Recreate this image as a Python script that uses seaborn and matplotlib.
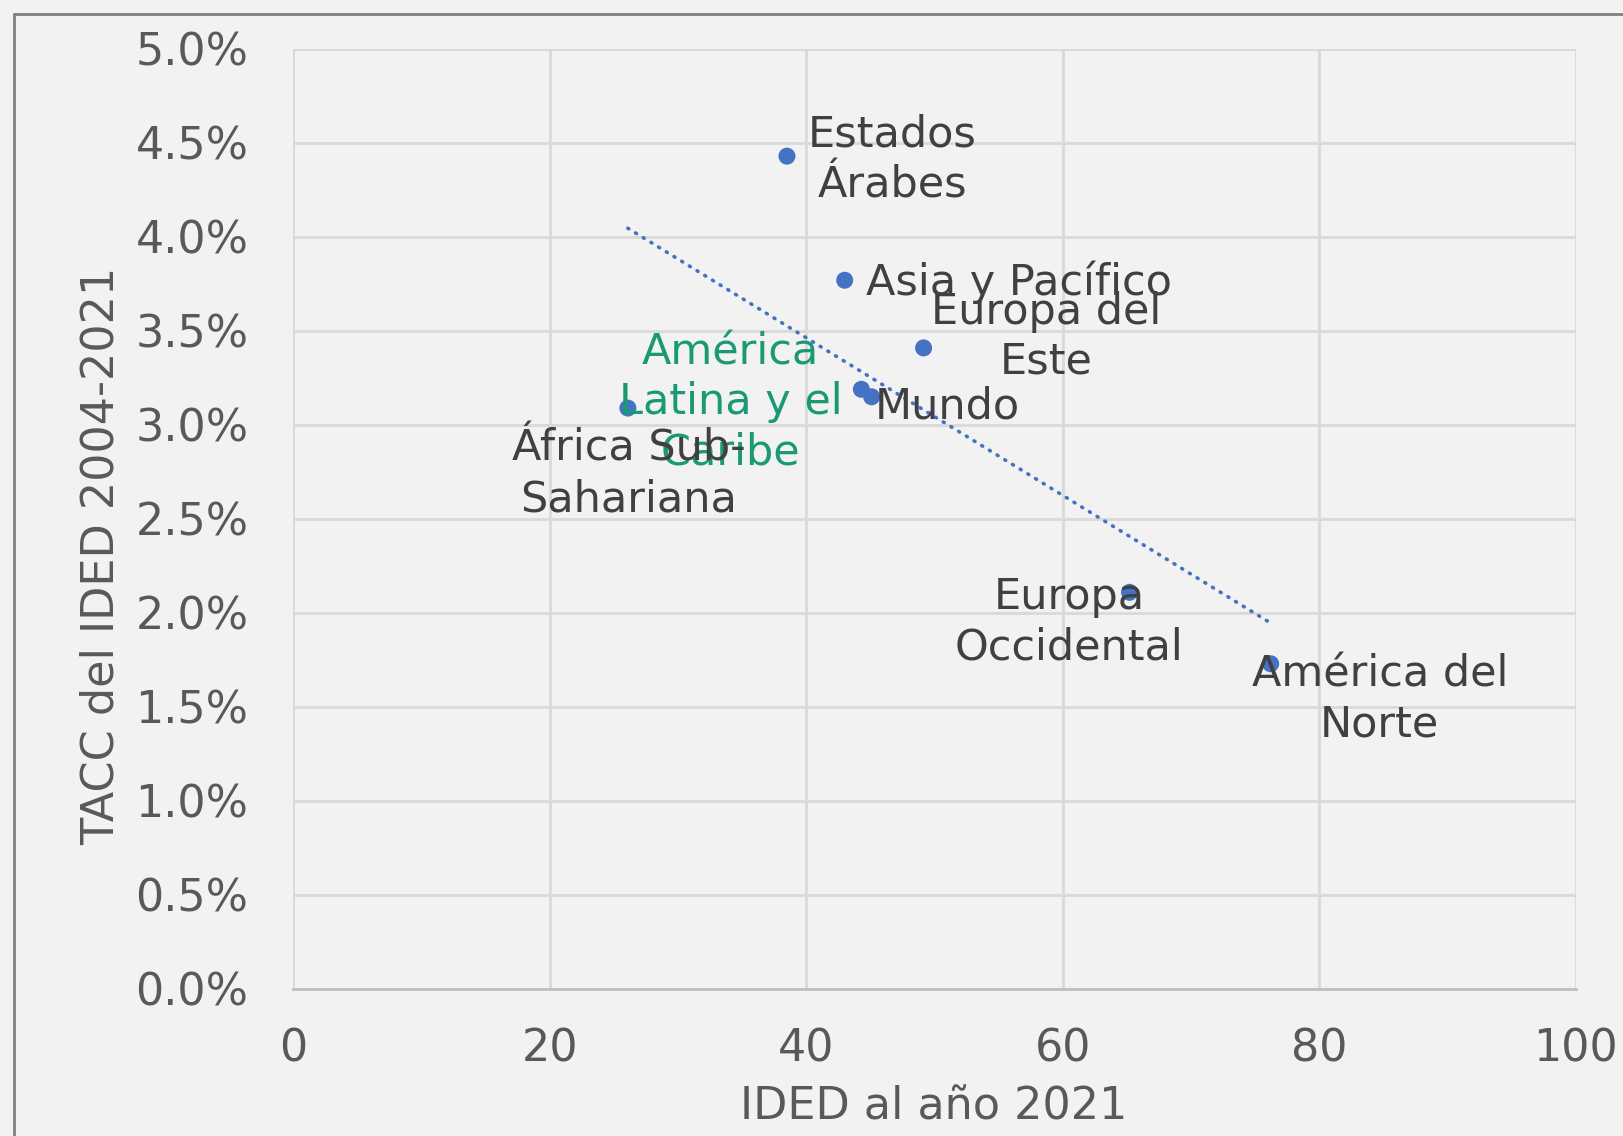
import numpy as np
import pandas as pd
import matplotlib
matplotlib.use("Agg")
import matplotlib.pyplot as plt
from matplotlib.lines import Line2D
from matplotlib.ticker import PercentFormatter
import seaborn as sns

regions = ["Estados\nÁrabes", "Asia y Pacífico", "Europa del\nEste", "América\nLatina y el\nCaribe",
           "Mundo", "África Sub-\nSahariana", "Europa\nOccidental", "América del\nNorte"]
ided_2021 = [38.5, 43.0, 49.15, 44.3, 45.1, 26.1, 65.2, 76.2]
tacc = [4.43, 3.77, 3.41, 3.19, 3.15, 3.09, 2.11, 1.73]

# where each label sits (data coords), tuned by eye
label_pos = [(46.7, 4.41), (56.6, 3.76), (58.7, 3.47), (34.1, 3.12),
             (51.0, 3.10), (26.15, 2.74), (60.5, 1.95), (84.7, 1.54)]
label_color = ["#404040", "#404040", "#404040", "#1a9a74",
               "#404040", "#404040", "#404040", "#404040"]

df = pd.DataFrame({"region": regions, "ided": ided_2021, "tacc": tacc})

sns.set_style("whitegrid")
plt.rcParams["font.family"] = ["DejaVu Sans"]

bg = "#f2f2f2"
fig = plt.figure(figsize=(16.24, 11.36), dpi=100, facecolor=bg)
ax = fig.add_axes([293 / 1624, 1 - 989 / 1136, (1576 - 293) / 1624, (989 - 49) / 1136])
ax.set_facecolor(bg)

sns.scatterplot(data=df, x="ided", y="tacc", ax=ax, color="#4472c4", s=150,
                edgecolor="none", zorder=3)

# linear trend line over the data range
slope, intercept = np.polyfit(df["ided"], df["tacc"], 1)
xs = np.array([df["ided"].min(), df["ided"].max()])
ax.plot(xs, slope * xs + intercept, color="#4472c4", lw=2.6,
        linestyle=(0, (0.3, 2.2)), dash_capstyle="round", zorder=2)

for name, (lx, ly), c in zip(regions, label_pos, label_color):
    ax.text(lx, ly, name, ha="center", va="center", fontsize=31, color=c,
            linespacing=1.25, zorder=4)

ax.set_xlim(0, 100)
ax.set_ylim(0, 5)
ax.set_xticks(np.arange(0, 101, 20))
ax.set_yticks(np.arange(0, 5.01, 0.5))
ax.yaxis.set_major_formatter(PercentFormatter(decimals=1))
ax.tick_params(axis="both", labelsize=32, colors="#595959", length=0)
ax.tick_params(axis="y", pad=32)
ax.tick_params(axis="x", pad=28)
ax.grid(True, color="#d9d9d9", lw=2)
for side in ["top", "right", "left"]:
    ax.spines[side].set_visible(False)
ax.spines["bottom"].set_color("#bfbfbf")
ax.spines["bottom"].set_linewidth(2)
ax.set_xlabel("")
ax.set_ylabel("")

fig.text(934 / 1624, 1 - 1107 / 1136, "IDED al año 2021", ha="center", va="center",
         fontsize=32, color="#595959")
fig.text(101 / 1624, 1 - 556 / 1136, "TACC del IDED 2004-2021", ha="center", va="center",
         rotation=90, fontsize=32, color="#595959")

# outer chart frame (left and top edges visible)
fig.add_artist(Line2D([14 / 1624, 14 / 1624], [0, 1 - 14 / 1136], transform=fig.transFigure,
                      color="#808080", lw=2))
fig.add_artist(Line2D([14 / 1624, 1], [1 - 14 / 1136, 1 - 14 / 1136], transform=fig.transFigure,
                      color="#808080", lw=2))

fig.savefig("out.png", dpi=100, facecolor=bg)
